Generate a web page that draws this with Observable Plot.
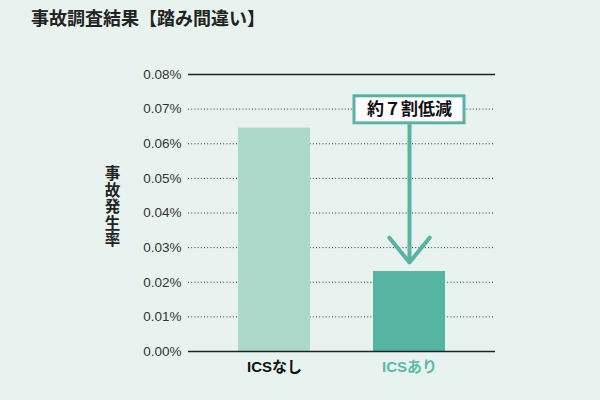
<!DOCTYPE html>
<html>
<head>
<meta charset="utf-8">
<script src="https://cdn.jsdelivr.net/npm/d3@7"></script>
<script src="https://cdn.jsdelivr.net/npm/@observablehq/plot@0.6"></script>
<style>
  html, body { margin: 0; padding: 0; background: #e8f3ef; width: 600px; height: 400px; overflow: hidden; }
  #title { height: 40px; line-height: 35px; padding-left: 31px; font-family: "Noto Sans CJK JP", sans-serif; font-weight: bold; font-size: 18px; color: #222; box-sizing: border-box; }
  .ylabel text { writing-mode: vertical-rl; text-orientation: upright; letter-spacing: 1px; }
</style>
</head>
<body>
<div id="title"></div>
<div id="chart"></div>
<script>
const title = "事故調査結果【踏み間違い】";
const yLabel = "事故発生率";
const categories = ["ICSなし", "ICSあり"];
const rates = [0.0645, 0.0231];            // accident rate, %
const yTicks = [0, 0.01, 0.02, 0.03, 0.04, 0.05, 0.06, 0.07, 0.08];
const annotationText = "約７割低減";
const annotationLevel = 0.07;               // label centred on the 0.07% grid line
const annotationBox = [0.0737, 0.0659];     // box top / bottom, %
const arrowEnd = 0.0257;                    // arrow tip, %

const barColors = ["#acd9c9", "#56b4a3"];
const teal = "#5ab3a2";

document.getElementById("title").textContent = title;

const data = categories.map((c, i) => ({cat: c, rate: rates[i]}));
const target = categories[1];

const chart = Plot.plot({
  width: 600,
  height: 360,
  marginTop: 34,
  marginBottom: 49,
  marginLeft: 188,
  marginRight: 105,
  style: {background: "transparent", fontFamily: "'Liberation Sans', 'Noto Sans CJK JP', sans-serif"},
  x: {domain: categories, paddingInner: 0.47, paddingOuter: 0.368, axis: null},
  y: {domain: [0, 0.08], axis: null},
  color: {domain: categories, range: barColors},
  marks: [
    Plot.ruleY(yTicks.filter(d => d > 0 && d < 0.08), {stroke: "#333", strokeDasharray: "1,2.2", strokeWidth: 1}),
    Plot.barY(data, {x: "cat", y: "rate", fill: "cat"}),
    Plot.ruleY([0, 0.08], {stroke: "#222", strokeWidth: 1.3}),
    Plot.axisY(yTicks, {tickSize: 0, tickPadding: 7, label: null, tickFormat: d => d.toFixed(2) + "%", fontSize: 13.5, fill: "#333"}),
    Plot.axisX({tickSize: 0, tickPadding: 10, label: null, fontSize: 15, fontWeight: "bold",
      fontFamily: "'Liberation Sans', 'Noto Sans CJK JP', sans-serif",
      fill: d => d === target ? "#5fb9a7" : "#111"}),
    Plot.arrow([{x: target}], {x1: "x", x2: "x", y1: annotationBox[1], y2: arrowEnd,
      stroke: teal, strokeWidth: 4, headLength: 12, headAngle: 78, bend: false}),
    Plot.barY([{x: target}], {x: "x", y1: annotationBox[0], y2: annotationBox[1],
      insetLeft: -19, insetRight: -19, fill: "white", stroke: teal, strokeWidth: 3}),
    Plot.text([annotationText], {x: [target], y: [annotationLevel], text: d => d,
      fontSize: 17, fontWeight: "bold", fill: "#111", fontFamily: "'Noto Sans CJK JP', sans-serif"}),
    Plot.text([yLabel], {frameAnchor: "left", dx: -76, dy: -11, text: d => d, className: "ylabel",
      textAnchor: "middle", lineAnchor: "middle",
      fontSize: 15.5, fontWeight: "bold", fill: "#222", fontFamily: "'Noto Sans CJK JP', sans-serif"})
  ]
});
document.getElementById("chart").appendChild(chart);
</script>
</body>
</html>
